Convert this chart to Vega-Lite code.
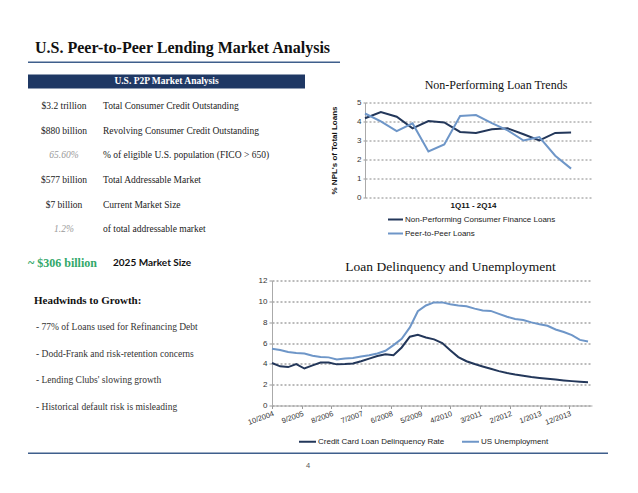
{
  "$schema": "https://vega.github.io/schema/vega-lite/v6.json",
  "background": "white",
  "padding": {"left": 28, "top": 39.5, "right": 5, "bottom": 5},
  "config": {
    "view": {"stroke": null},
    "title": {"color": "#111"}
  },
  "resolve": {"scale": {"color": "independent"}, "legend": {"color": "independent"}},
  "datasets": {
    "table": [
      {"row": "r1", "col": "amount", "t": "$3.2 trillion", "kind": "dollar"},
      {"row": "r1", "col": "desc", "t": "Total Consumer Credit Outstanding", "kind": "text"},
      {"row": "r2", "col": "amount", "t": "$880 billion", "kind": "dollar"},
      {"row": "r2", "col": "desc", "t": "Revolving Consumer Credit Outstanding", "kind": "text"},
      {"row": "r3", "col": "amount", "t": "65.60%", "kind": "pct"},
      {"row": "r3", "col": "desc", "t": "% of eligible U.S. population (FICO > 650)", "kind": "text"},
      {"row": "r4", "col": "amount", "t": "$577 billion", "kind": "dollar"},
      {"row": "r4", "col": "desc", "t": "Total Addressable Market", "kind": "text"},
      {"row": "r5", "col": "amount", "t": "$7 billion", "kind": "dollar"},
      {"row": "r5", "col": "desc", "t": "Current Market Size", "kind": "text"},
      {"row": "r6", "col": "amount", "t": "1.2%", "kind": "pct"},
      {"row": "r6", "col": "desc", "t": "of total addressable market", "kind": "text"}
    ],
    "headwinds": [
      {"item": "Headwinds to Growth:", "block": "head"},
      {"item": "- 77% of Loans used for Refinancing Debt", "block": "bullet"},
      {"item": "- Dodd-Frank and risk-retention concerns", "block": "bullet"},
      {"item": "- Lending Clubs' slowing growth", "block": "bullet"},
      {"item": "- Historical default risk is misleading", "block": "bullet"}
    ],
    "npl": [
      {"i": 1, "q": "1Q11", "series": "Non-Performing Consumer Finance Loans", "v": 4.17},
      {"i": 2, "q": "2Q11", "series": "Non-Performing Consumer Finance Loans", "v": 4.5},
      {"i": 3, "q": "3Q11", "series": "Non-Performing Consumer Finance Loans", "v": 4.25},
      {"i": 4, "q": "4Q11", "series": "Non-Performing Consumer Finance Loans", "v": 3.64},
      {"i": 5, "q": "1Q12", "series": "Non-Performing Consumer Finance Loans", "v": 4.02},
      {"i": 6, "q": "2Q12", "series": "Non-Performing Consumer Finance Loans", "v": 3.95},
      {"i": 7, "q": "3Q12", "series": "Non-Performing Consumer Finance Loans", "v": 3.45},
      {"i": 8, "q": "4Q12", "series": "Non-Performing Consumer Finance Loans", "v": 3.4},
      {"i": 9, "q": "1Q13", "series": "Non-Performing Consumer Finance Loans", "v": 3.59},
      {"i": 10, "q": "2Q13", "series": "Non-Performing Consumer Finance Loans", "v": 3.64},
      {"i": 11, "q": "3Q13", "series": "Non-Performing Consumer Finance Loans", "v": 3.33},
      {"i": 12, "q": "4Q13", "series": "Non-Performing Consumer Finance Loans", "v": 3.01},
      {"i": 13, "q": "1Q14", "series": "Non-Performing Consumer Finance Loans", "v": 3.4},
      {"i": 14, "q": "2Q14", "series": "Non-Performing Consumer Finance Loans", "v": 3.42},
      {"i": 1, "q": "1Q11", "series": "Peer-to-Peer Loans", "v": 4.42},
      {"i": 2, "q": "2Q11", "series": "Peer-to-Peer Loans", "v": 4.01},
      {"i": 3, "q": "3Q11", "series": "Peer-to-Peer Loans", "v": 3.49},
      {"i": 4, "q": "4Q11", "series": "Peer-to-Peer Loans", "v": 3.9},
      {"i": 5, "q": "1Q12", "series": "Peer-to-Peer Loans", "v": 2.42},
      {"i": 6, "q": "2Q12", "series": "Peer-to-Peer Loans", "v": 2.79},
      {"i": 7, "q": "3Q12", "series": "Peer-to-Peer Loans", "v": 4.29},
      {"i": 8, "q": "4Q12", "series": "Peer-to-Peer Loans", "v": 4.34},
      {"i": 9, "q": "1Q13", "series": "Peer-to-Peer Loans", "v": 3.91},
      {"i": 10, "q": "2Q13", "series": "Peer-to-Peer Loans", "v": 3.53},
      {"i": 11, "q": "3Q13", "series": "Peer-to-Peer Loans", "v": 3.0},
      {"i": 12, "q": "4Q13", "series": "Peer-to-Peer Loans", "v": 3.18},
      {"i": 13, "q": "1Q14", "series": "Peer-to-Peer Loans", "v": 2.2},
      {"i": 14, "q": "2Q14", "series": "Peer-to-Peer Loans", "v": 1.52}
    ],
    "delinq": [
      {"date": "2004/10/01", "series": "Credit Card Loan Delinquency Rate", "v": 4.08},
      {"date": "2005/01/01", "series": "Credit Card Loan Delinquency Rate", "v": 3.76},
      {"date": "2005/04/01", "series": "Credit Card Loan Delinquency Rate", "v": 3.69},
      {"date": "2005/07/01", "series": "Credit Card Loan Delinquency Rate", "v": 3.98},
      {"date": "2005/10/01", "series": "Credit Card Loan Delinquency Rate", "v": 3.55},
      {"date": "2006/01/01", "series": "Credit Card Loan Delinquency Rate", "v": 3.85},
      {"date": "2006/04/01", "series": "Credit Card Loan Delinquency Rate", "v": 4.12},
      {"date": "2006/07/01", "series": "Credit Card Loan Delinquency Rate", "v": 4.12},
      {"date": "2006/10/01", "series": "Credit Card Loan Delinquency Rate", "v": 3.95},
      {"date": "2007/01/01", "series": "Credit Card Loan Delinquency Rate", "v": 3.98},
      {"date": "2007/04/01", "series": "Credit Card Loan Delinquency Rate", "v": 4.04},
      {"date": "2007/07/01", "series": "Credit Card Loan Delinquency Rate", "v": 4.25},
      {"date": "2007/10/01", "series": "Credit Card Loan Delinquency Rate", "v": 4.5},
      {"date": "2008/01/01", "series": "Credit Card Loan Delinquency Rate", "v": 4.75},
      {"date": "2008/04/01", "series": "Credit Card Loan Delinquency Rate", "v": 4.92},
      {"date": "2008/07/01", "series": "Credit Card Loan Delinquency Rate", "v": 4.82},
      {"date": "2008/10/01", "series": "Credit Card Loan Delinquency Rate", "v": 5.57},
      {"date": "2009/01/01", "series": "Credit Card Loan Delinquency Rate", "v": 6.6},
      {"date": "2009/04/01", "series": "Credit Card Loan Delinquency Rate", "v": 6.78},
      {"date": "2009/07/01", "series": "Credit Card Loan Delinquency Rate", "v": 6.53},
      {"date": "2009/10/01", "series": "Credit Card Loan Delinquency Rate", "v": 6.35},
      {"date": "2010/01/01", "series": "Credit Card Loan Delinquency Rate", "v": 6.0},
      {"date": "2010/04/01", "series": "Credit Card Loan Delinquency Rate", "v": 5.3},
      {"date": "2010/07/01", "series": "Credit Card Loan Delinquency Rate", "v": 4.65},
      {"date": "2010/10/01", "series": "Credit Card Loan Delinquency Rate", "v": 4.25},
      {"date": "2011/01/01", "series": "Credit Card Loan Delinquency Rate", "v": 3.98},
      {"date": "2011/04/01", "series": "Credit Card Loan Delinquency Rate", "v": 3.75},
      {"date": "2011/07/01", "series": "Credit Card Loan Delinquency Rate", "v": 3.52},
      {"date": "2011/10/01", "series": "Credit Card Loan Delinquency Rate", "v": 3.3},
      {"date": "2012/01/01", "series": "Credit Card Loan Delinquency Rate", "v": 3.12},
      {"date": "2012/04/01", "series": "Credit Card Loan Delinquency Rate", "v": 2.98},
      {"date": "2012/07/01", "series": "Credit Card Loan Delinquency Rate", "v": 2.86},
      {"date": "2012/10/01", "series": "Credit Card Loan Delinquency Rate", "v": 2.74},
      {"date": "2013/01/01", "series": "Credit Card Loan Delinquency Rate", "v": 2.65},
      {"date": "2013/04/01", "series": "Credit Card Loan Delinquency Rate", "v": 2.57},
      {"date": "2013/07/01", "series": "Credit Card Loan Delinquency Rate", "v": 2.49},
      {"date": "2013/10/01", "series": "Credit Card Loan Delinquency Rate", "v": 2.41},
      {"date": "2014/01/01", "series": "Credit Card Loan Delinquency Rate", "v": 2.34},
      {"date": "2014/04/01", "series": "Credit Card Loan Delinquency Rate", "v": 2.28},
      {"date": "2014/07/01", "series": "Credit Card Loan Delinquency Rate", "v": 2.23},
      {"date": "2004/10/01", "series": "US Unemployment", "v": 5.45},
      {"date": "2005/01/01", "series": "US Unemployment", "v": 5.32},
      {"date": "2005/04/01", "series": "US Unemployment", "v": 5.13},
      {"date": "2005/07/01", "series": "US Unemployment", "v": 5.03},
      {"date": "2005/10/01", "series": "US Unemployment", "v": 5.0},
      {"date": "2006/01/01", "series": "US Unemployment", "v": 4.78},
      {"date": "2006/04/01", "series": "US Unemployment", "v": 4.65},
      {"date": "2006/07/01", "series": "US Unemployment", "v": 4.62},
      {"date": "2006/10/01", "series": "US Unemployment", "v": 4.42},
      {"date": "2007/01/01", "series": "US Unemployment", "v": 4.52},
      {"date": "2007/04/01", "series": "US Unemployment", "v": 4.55},
      {"date": "2007/07/01", "series": "US Unemployment", "v": 4.7},
      {"date": "2007/10/01", "series": "US Unemployment", "v": 4.82},
      {"date": "2008/01/01", "series": "US Unemployment", "v": 5.0},
      {"date": "2008/04/01", "series": "US Unemployment", "v": 5.25},
      {"date": "2008/07/01", "series": "US Unemployment", "v": 5.8},
      {"date": "2008/10/01", "series": "US Unemployment", "v": 6.4},
      {"date": "2009/01/01", "series": "US Unemployment", "v": 7.5},
      {"date": "2009/04/01", "series": "US Unemployment", "v": 9.05},
      {"date": "2009/07/01", "series": "US Unemployment", "v": 9.6},
      {"date": "2009/10/01", "series": "US Unemployment", "v": 9.9},
      {"date": "2010/01/01", "series": "US Unemployment", "v": 9.9},
      {"date": "2010/04/01", "series": "US Unemployment", "v": 9.72},
      {"date": "2010/07/01", "series": "US Unemployment", "v": 9.6},
      {"date": "2010/10/01", "series": "US Unemployment", "v": 9.52},
      {"date": "2011/01/01", "series": "US Unemployment", "v": 9.3},
      {"date": "2011/04/01", "series": "US Unemployment", "v": 9.12},
      {"date": "2011/07/01", "series": "US Unemployment", "v": 9.08},
      {"date": "2011/10/01", "series": "US Unemployment", "v": 8.8},
      {"date": "2012/01/01", "series": "US Unemployment", "v": 8.52},
      {"date": "2012/04/01", "series": "US Unemployment", "v": 8.3},
      {"date": "2012/07/01", "series": "US Unemployment", "v": 8.2},
      {"date": "2012/10/01", "series": "US Unemployment", "v": 7.98},
      {"date": "2013/01/01", "series": "US Unemployment", "v": 7.8},
      {"date": "2013/04/01", "series": "US Unemployment", "v": 7.65},
      {"date": "2013/07/01", "series": "US Unemployment", "v": 7.3},
      {"date": "2013/10/01", "series": "US Unemployment", "v": 7.05},
      {"date": "2014/01/01", "series": "US Unemployment", "v": 6.75},
      {"date": "2014/04/01", "series": "US Unemployment", "v": 6.3},
      {"date": "2014/07/01", "series": "US Unemployment", "v": 6.15}
    ]
  },
  "spacing": 6,
  "vconcat": [
    {
      "spacing": 11,
      "resolve": {"scale": {"color": "independent"}, "legend": {"color": "independent"}},
      "vconcat": [
        {
          "width": 312,
          "height": 1.5,
          "view": {"fill": "#3f5f8c", "stroke": null},
          "title": {"text": "U.S. Peer-to-Peer Lending Market Analysis", "anchor": "start", "dx": 7, "offset": 5.5, "font": "Liberation Serif", "fontSize": 16, "fontWeight": "bold", "color": "#111"},
          "data": {"values": []},
          "mark": "text",
          "encoding": {}
        },
        {
          "spacing": 25,
          "resolve": {"scale": {"color": "independent"}, "legend": {"color": "independent"}},
          "hconcat": [
            {
              "width": 277,
              "height": 176,
              "encoding": {
                "y": {"field": "row", "type": "nominal", "scale": {"type": "band", "domain": ["h", "r1", "r2", "r3", "r4", "r5", "r6"], "paddingInner": 0.432, "paddingOuter": 0.29, "align": 0}, "axis": null}
              },
              "layer": [
                {
                  "data": {"values": [{"row": "h", "t": "U.S. P2P Market Analysis"}]},
                  "mark": {"type": "rect", "color": "#1f3864"}
                },
                {
                  "data": {"values": [{"row": "h", "t": "U.S. P2P Market Analysis"}]},
                  "mark": {"type": "text", "color": "white", "font": "Liberation Serif", "fontSize": 9.5, "fontWeight": "bold"},
                  "encoding": {"text": {"field": "t"}}
                },
                {
                  "data": {"name": "table"},
                  "transform": [{"filter": "datum.col == 'amount' && datum.kind != 'pct'"}],
                  "mark": {"type": "text", "align": "center", "font": "Liberation Serif", "fontSize": 9.5, "color": "#222"},
                  "encoding": {
                    "x": {"field": "col", "type": "nominal", "scale": {"type": "point", "domain": ["amount", "desc"], "range": [36, 75], "padding": 0}, "axis": null},
                    "text": {"field": "t"}
                  }
                },
                {
                  "data": {"name": "table"},
                  "transform": [{"filter": "datum.kind == 'pct'"}],
                  "mark": {"type": "text", "align": "center", "font": "Liberation Serif", "fontSize": 9.5, "fontStyle": "italic", "color": "#9a9a9a"},
                  "encoding": {
                    "x": {"field": "col", "type": "nominal", "axis": null},
                    "text": {"field": "t"}
                  }
                },
                {
                  "data": {"name": "table"},
                  "transform": [{"filter": "datum.col == 'desc'"}],
                  "mark": {"type": "text", "align": "left", "font": "Liberation Serif", "fontSize": 9.5, "color": "#222"},
                  "encoding": {
                    "x": {"field": "col", "type": "nominal", "axis": null},
                    "text": {"field": "t"}
                  }
                }
              ]
            },
            {
              "spacing": 4,
              "vconcat": [
                {
                  "width": 262,
                  "height": 20,
                  "data": {"values": [{"t": "Non-Performing Loan Trends"}]},
                  "mark": {"type": "text", "font": "Liberation Serif", "fontSize": 12, "color": "#111"},
                  "encoding": {"text": {"field": "t"}}
                },
                {
                  "width": 227,
                  "height": 95,
                  "data": {"name": "npl"},
                  "mark": {"type": "line", "strokeWidth": 2},
                  "encoding": {
                    "x": {"field": "i", "type": "quantitative", "scale": {"domain": [1, 15.32], "nice": false, "zero": false},
                      "axis": {"title": "1Q11 - 2Q14", "titleX": 108, "labels": false, "ticks": false, "domain": false, "grid": false, "titleFont": "Liberation Sans", "titleFontSize": 8, "titleFontWeight": "bold", "titleColor": "#111", "titlePadding": 4}},
                    "y": {"field": "v", "type": "quantitative", "scale": {"domain": [0, 5], "nice": false},
                      "axis": {"values": [0, 1, 2, 3, 4, 5], "format": "d", "title": "% NPL's of Total Loans", "titleFont": "Liberation Sans", "titleFontSize": 8, "titleFontWeight": "bold", "titleColor": "#111", "titlePadding": 18, "labelFont": "Liberation Sans", "labelFontSize": 8, "labelColor": "#333", "labelPadding": 2, "tickSize": 2, "tickColor": "#999", "domainColor": "#aaa", "gridColor": "#888", "gridDash": [2, 2]}},
                    "color": {"field": "series", "type": "nominal",
                      "scale": {"domain": ["Non-Performing Consumer Finance Loans", "Peer-to-Peer Loans"], "range": ["#23375a", "#6e96c8"]},
                      "legend": {"orient": "none", "legendX": 22, "legendY": 136.5, "direction": "vertical", "title": null, "symbolType": "stroke", "symbolSize": 225, "symbolStrokeWidth": 2, "labelFont": "Liberation Sans", "labelFontSize": 8, "labelColor": "#222", "labelOffset": 1, "rowPadding": 1}}
                  }
                }
              ]
            }
          ]
        }
      ]
    },
    {
      "spacing": 18,
      "resolve": {"scale": {"color": "independent"}, "legend": {"color": "independent"}},
      "hconcat": [
        {
          "spacing": 26,
          "vconcat": [
            {
              "width": 200,
              "height": 10,
              "data": {"values": [{"k": "amount", "t": "~ $306 billion"}, {"k": "label", "t": "2025 Market Size"}]},
              "encoding": {
                "x": {"field": "k", "type": "nominal", "scale": {"type": "point", "domain": ["amount", "label"], "range": [0, 85], "padding": 0}, "axis": null},
                "text": {"field": "t"}
              },
              "layer": [
                {"transform": [{"filter": "datum.k == 'amount'"}], "mark": {"type": "text", "align": "left", "font": "Liberation Serif", "fontSize": 12, "fontWeight": "bold", "color": "#33a86a"}},
                {"transform": [{"filter": "datum.k == 'label'"}], "mark": {"type": "text", "align": "left", "font": "Lato", "fontSize": 10, "fontWeight": "bold", "color": "#111"}}
              ]
            },
            {
              "width": 200,
              "height": 106,
              "data": {"name": "headwinds"},
              "encoding": {
                "y": {"field": "item", "type": "nominal", "scale": {"type": "point", "padding": 0, "domain": ["Headwinds to Growth:", "- 77% of Loans used for Refinancing Debt", "- Dodd-Frank and risk-retention concerns", "- Lending Clubs' slowing growth", "- Historical default risk is misleading"]}, "axis": null},
                "x": {"field": "block", "type": "nominal", "scale": {"type": "point", "domain": ["head", "bullet"], "range": [6, 8], "padding": 0}, "axis": null},
                "text": {"field": "item"}
              },
              "layer": [
                {"transform": [{"filter": "datum.block == 'head'"}], "mark": {"type": "text", "align": "left", "font": "Liberation Serif", "fontSize": 11, "fontWeight": "bold", "color": "#111"}},
                {"transform": [{"filter": "datum.block == 'bullet'"}], "mark": {"type": "text", "align": "left", "font": "Liberation Serif", "fontSize": 9.5, "color": "#333"}}
              ]
            }
          ]
        },
        {
          "spacing": 0,
          "vconcat": [
            {
              "width": 357,
              "height": 19,
              "data": {"values": [{"t": "Loan Delinquency and Unemployment"}]},
              "mark": {"type": "text", "font": "Liberation Serif", "fontSize": 13.5, "color": "#111"},
              "encoding": {"text": {"field": "t"}}
            },
            {
              "width": 320,
              "height": 125,
              "data": {"name": "delinq"},
              "mark": {"type": "line", "strokeWidth": 2},
              "encoding": {
                "x": {"field": "date", "type": "temporal",
                  "scale": {"domain": [{"year": 2004, "month": 10, "date": 1}, {"year": 2014, "month": 8, "date": 15}], "nice": false},
                  "axis": {"values": [{"year": 2004, "month": 10, "date": 1}, {"year": 2005, "month": 9, "date": 1}, {"year": 2006, "month": 8, "date": 1}, {"year": 2007, "month": 7, "date": 1}, {"year": 2008, "month": 6, "date": 1}, {"year": 2009, "month": 5, "date": 1}, {"year": 2010, "month": 4, "date": 1}, {"year": 2011, "month": 3, "date": 1}, {"year": 2012, "month": 2, "date": 1}, {"year": 2013, "month": 1, "date": 1}, {"year": 2013, "month": 12, "date": 1}],
                    "format": "%-m/%Y", "labelAngle": -20, "labelOverlap": false, "labelFont": "Liberation Sans", "labelFontSize": 7.5, "labelColor": "#333", "labelPadding": 1, "tickSize": 3, "tickColor": "#999", "domainColor": "#aaa", "grid": false, "title": null}},
                "y": {"field": "v", "type": "quantitative", "scale": {"domain": [0, 12], "nice": false},
                  "axis": {"values": [0, 2, 4, 6, 8, 10, 12], "format": "d", "title": null, "labelFont": "Liberation Sans", "labelFontSize": 8, "labelColor": "#333", "labelPadding": 2, "tickSize": 3, "tickColor": "#999", "domainColor": "#aaa", "gridColor": "#777", "gridDash": [2, 2]}},
                "color": {"field": "series", "type": "nominal",
                  "scale": {"domain": ["Credit Card Loan Delinquency Rate", "US Unemployment"], "range": ["#23375a", "#6e96c8"]},
                  "legend": {"orient": "none", "legendX": 26, "legendY": 174.5, "direction": "horizontal", "columns": 2, "columnPadding": 13, "title": null, "symbolType": "stroke", "symbolSize": 289, "symbolStrokeWidth": 2, "labelFont": "Liberation Sans", "labelFontSize": 8, "labelColor": "#222", "labelOffset": 1}}
              }
            }
          ]
        }
      ]
    },
    {
      "width": 580,
      "height": 1.5,
      "view": {"fill": "#3f5f8c", "stroke": null},
      "title": {"text": "4", "orient": "bottom", "anchor": "middle", "dx": -10, "offset": 8, "font": "Liberation Sans", "fontSize": 7.5, "fontWeight": "normal", "color": "#555"},
      "data": {"values": []},
      "mark": "text",
      "encoding": {}
    }
  ]
}
